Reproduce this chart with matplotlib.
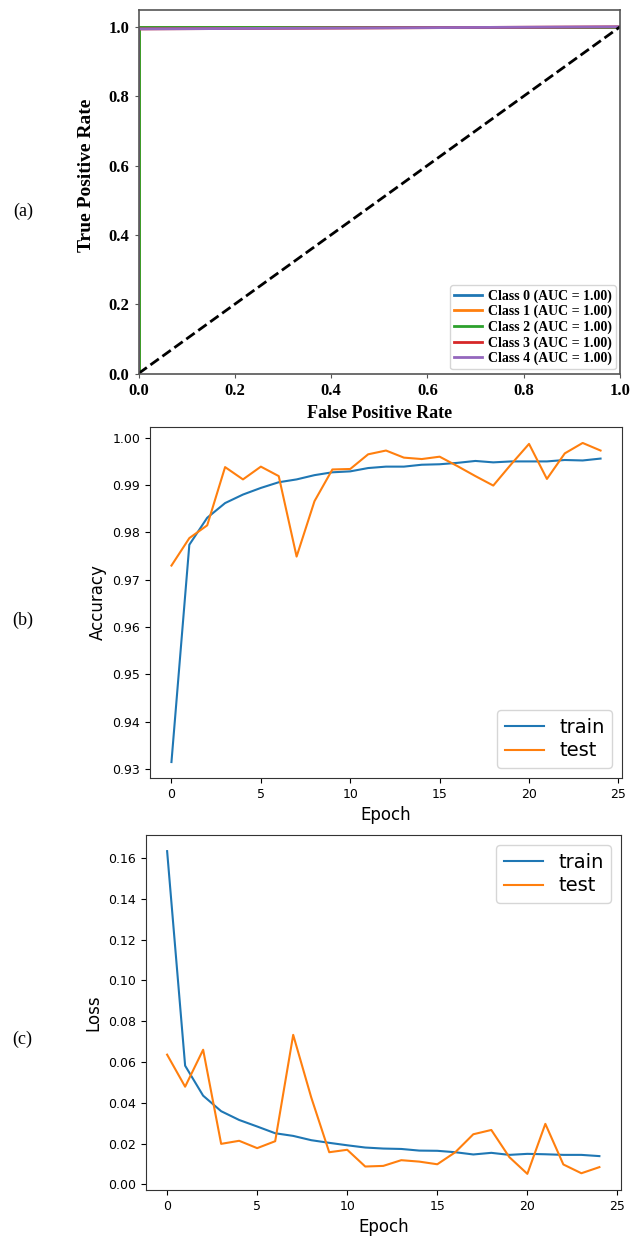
import numpy as np
import matplotlib
matplotlib.use("Agg")
import matplotlib.pyplot as plt

# ROC curves (a)
class_names = ["Class 0", "Class 1", "Class 2", "Class 3", "Class 4"]
class_auc = [1.00, 1.00, 1.00, 1.00, 1.00]
roc_fpr = [[0, 0, 1], [0, 0, 1], [0, 0, 1], [0, 0, 1], [0, 0, 1]]
roc_tpr = [[0, 1, 1], [0, 1, 1], [0, 1, 1], [0, 0.994, 1], [0, 0.994, 1]]
roc_colors = ["#1f77b4", "#ff7f0e", "#2ca02c", "#d62728", "#9467bd"]

# accuracy per epoch (b)
epochs = np.arange(25)
acc_train = [0.9315, 0.9774, 0.9831, 0.9862, 0.9880, 0.9894, 0.9906, 0.9912,
             0.9921, 0.9927, 0.9929, 0.9936, 0.9939, 0.9939, 0.9943, 0.9944,
             0.9947, 0.9951, 0.9948, 0.9950, 0.9950, 0.9950, 0.9953, 0.9952,
             0.9956]
acc_test = [0.9730, 0.9788, 0.9815, 0.9938, 0.9912, 0.9939, 0.9919, 0.9749,
            0.9866, 0.9933, 0.9934, 0.9965, 0.9973, 0.9958, 0.9955, 0.9960,
            0.9940, 0.9919, 0.9899, 0.9944, 0.9987, 0.9913, 0.9967, 0.9989,
            0.9973]

# loss per epoch (c)
loss_train = [0.1633, 0.0582, 0.0435, 0.0359, 0.0316, 0.0284, 0.0251, 0.0238,
              0.0217, 0.0204, 0.0192, 0.0181, 0.0176, 0.0174, 0.0166, 0.0165,
              0.0158, 0.0147, 0.0155, 0.0145, 0.0150, 0.0148, 0.0145, 0.0145,
              0.0139]
loss_test = [0.0636, 0.0479, 0.0660, 0.0199, 0.0214, 0.0178, 0.0212, 0.0733,
             0.0427, 0.0158, 0.0170, 0.0088, 0.0091, 0.0119, 0.0112, 0.0099,
             0.0158, 0.0246, 0.0267, 0.0134, 0.0052, 0.0297, 0.0098, 0.0055,
             0.0085]

W, H = 636, 1238
fig = plt.figure(figsize=(W / 100, H / 100), dpi=100)


def box(l, t, r, b):
    return [l / W, 1 - b / H, (r - l) / W, (b - t) / H]


serif = "Liberation Serif"

# (a) ROC
ax1 = fig.add_axes(box(138.5, 9.5, 620, 373.5))
for i in range(len(class_names)):
    ax1.plot(roc_fpr[i], roc_tpr[i], color=roc_colors[i], lw=2,
             label=f"{class_names[i]} (AUC = {class_auc[i]:.2f})")
ax1.plot([0, 1], [0, 1], "k--", lw=2)
ax1.set_xlim(0, 1)
ax1.set_ylim(0, 1.05)
ax1.set_xlabel("False Positive Rate", fontfamily=serif, fontweight="bold",
               fontsize=13, labelpad=5)
ax1.set_ylabel("True Positive Rate", fontfamily=serif, fontweight="bold",
               fontsize=14)
ax1.yaxis.set_label_coords(-0.09, 0.545)
for lab in ax1.get_xticklabels() + ax1.get_yticklabels():
    lab.set_fontfamily(serif)
    lab.set_fontweight("bold")
    lab.set_fontsize(12)
for s in ax1.spines.values():
    s.set_color("#555555")
    s.set_linewidth(1.2)
ax1.tick_params(length=3, color="#555555")
ax1.legend(loc="lower right", prop={"family": serif, "weight": "bold", "size": 10},
           labelspacing=0.15, handlelength=2.0, handletextpad=0.4,
           borderpad=0.3, borderaxespad=0.3, fancybox=True)

# (b) accuracy
ax2 = fig.add_axes(box(150, 427, 622, 778))
ax2.plot(epochs, acc_train, label="train")
ax2.plot(epochs, acc_test, label="test")
ax2.set_xlabel("Epoch", fontsize=12)
ax2.set_ylabel("Accuracy", fontsize=12)
ax2.tick_params(labelsize=9)
ax2.legend(loc="lower right", fontsize=14, labelspacing=0.25)

# (c) loss
ax3 = fig.add_axes(box(145.5, 835, 621, 1190))
ax3.plot(epochs, loss_train, label="train")
ax3.plot(epochs, loss_test, label="test")
ax3.set_xlabel("Epoch", fontsize=12)
ax3.set_ylabel("Loss", fontsize=12)
ax3.tick_params(labelsize=9)
ax3.legend(loc="upper right", fontsize=14, labelspacing=0.25)

for ax in (ax2, ax3):
    for s in ax.spines.values():
        s.set_color("#333333")

# panel tags
fig.text(13 / W, 1 - 211 / H, "(a)", fontfamily=serif, fontsize=13, va="center")
fig.text(12 / W, 1 - 620 / H, "(b)", fontfamily=serif, fontsize=13, va="center")
fig.text(12 / W, 1 - 1039 / H, "(c)", fontfamily=serif, fontsize=13, va="center")

fig.savefig("out.png", dpi=100)
